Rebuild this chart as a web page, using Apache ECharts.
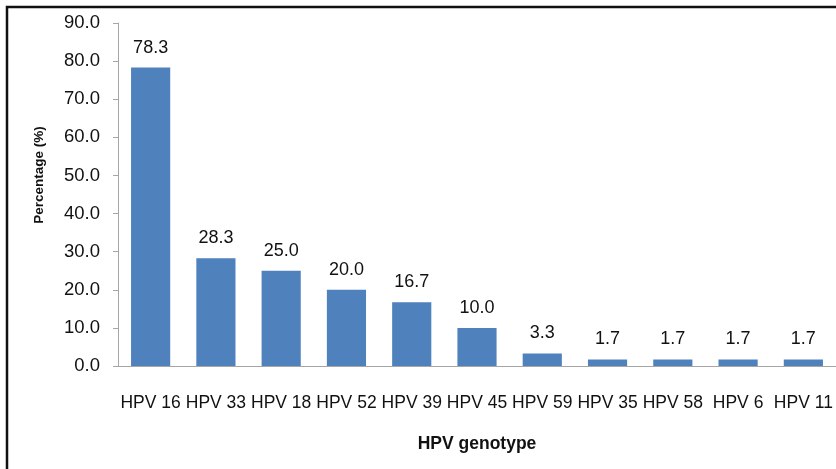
<!DOCTYPE html>
<html>
<head>
<meta charset="UTF-8">
<title>HPV genotype</title>
<script type="text/javascript" src="https://cdn.jsdelivr.net/npm/echarts@6/dist/echarts.min.js"></script>
<style>
  html, body { margin: 0; padding: 0; background: #fff; }
  #main { width: 836px; height: 469px; }
</style>
</head>
<body>
<div id="main"></div>
<script type="text/javascript">
  var genotypes = ['HPV 16', 'HPV 33', 'HPV 18', 'HPV 52', 'HPV 39', 'HPV 45', 'HPV 59', 'HPV 35', 'HPV 58', 'HPV 6', 'HPV 11'];
  var percentages = [78.3, 28.3, 25.0, 20.0, 16.7, 10.0, 3.3, 1.7, 1.7, 1.7, 1.7];

  var font = 'Arial, "Liberation Sans", sans-serif';
  var myChart = echarts.init(document.getElementById('main'));
  var option = {
    animation: false,
    backgroundColor: '#fff',
    grid: {
      left: 118,
      right: -1,
      top: 23,
      bottom: 103
    },
    graphic: [{
      type: 'rect',
      shape: { x: 7, y: 7, width: 1000, height: 800 },
      style: { fill: 'none', stroke: '#111', lineWidth: 2.5 },
      silent: true
    }, {
      // y axis title, sits higher than the axis middle in the original
      type: 'text',
      x: 39,
      y: 175,
      rotation: Math.PI / 2,
      style: {
        text: 'Percentage (%)',
        fontFamily: font,
        fontSize: 13.5,
        fontWeight: 'bold',
        fill: '#111',
        align: 'center',
        verticalAlign: 'middle'
      },
      silent: true
    }],
    xAxis: {
      type: 'category',
      data: genotypes,
      name: 'HPV genotype',
      nameLocation: 'middle',
      nameGap: 69,
      nameTextStyle: { fontFamily: font, fontSize: 17.5, fontWeight: 'bold', color: '#111' },
      axisLine: { lineStyle: { color: '#a6a6a6', width: 1 } },
      axisTick: { show: false },
      axisLabel: { interval: 0, margin: 28, fontFamily: font, fontSize: 17.5, color: '#111' }
    },
    yAxis: {
      type: 'value',
      min: 0,
      max: 90,
      interval: 10,
      splitLine: { show: false },
      axisLine: { show: true, lineStyle: { color: '#a6a6a6', width: 1 } },
      axisTick: { show: true, length: 5, lineStyle: { color: '#a6a6a6' } },
      axisLabel: {
        margin: 18,
        fontFamily: font,
        fontSize: 18.5,
        color: '#111',
        formatter: function (v) { return v.toFixed(1); }
      }
    },
    series: [{
      name: 'Percentage',
      type: 'bar',
      data: percentages,
      barWidth: '60%',
      itemStyle: { color: '#4f81bd' },
      label: {
        show: true,
        position: 'top',
        distance: 11,
        fontFamily: font,
        fontSize: 18,
        color: '#111',
        formatter: function (p) { return p.value.toFixed(1); }
      }
    }]
  };
  myChart.setOption(option);
</script>
</body>
</html>
